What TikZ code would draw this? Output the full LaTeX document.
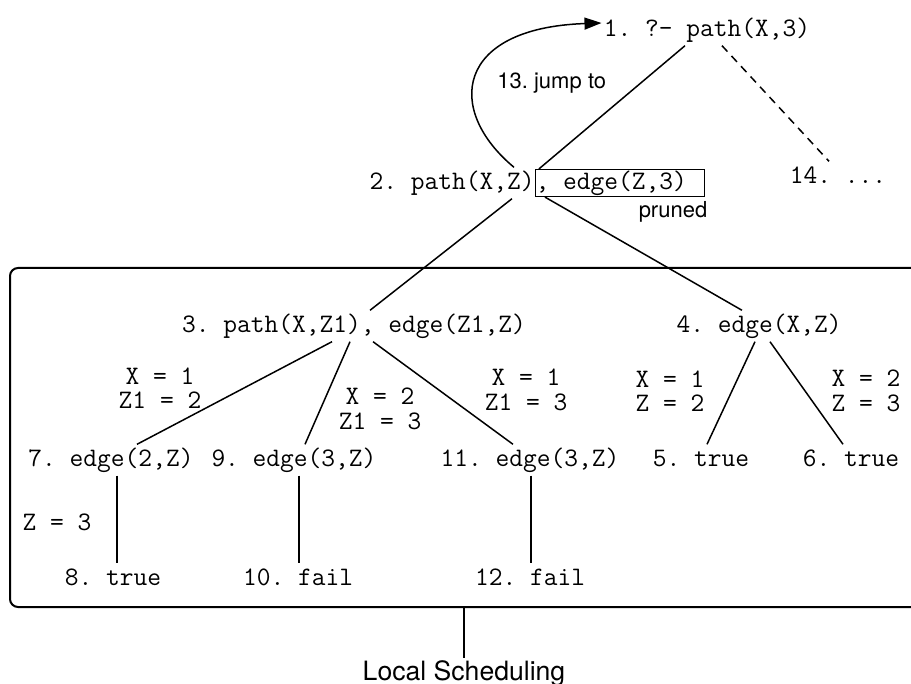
\documentclass[tikz,border=0pt]{standalone}
\usepackage{fontspec}
\newfontfamily\helv{TeX Gyre Heros}
\usetikzlibrary{arrows.meta,calc}
\frenchspacing
\begin{document}
\begin{tikzpicture}[x=0.5pt,y=-0.5pt,
  mono/.style={font=\fontsize{13.35}{15}\selectfont\ttfamily, inner sep=1pt, text height=10pt, text depth=3.3pt},
  lab/.style={font=\fontsize{13.35}{12.2}\selectfont\ttfamily, align=center, inner sep=0pt},
  conn/.style={line width=0.75pt},
  sans/.style={font=\fontsize{11}{13}\selectfont\helv, inner sep=0pt}]
\useasboundingbox (0,0) rectangle (911,684);
\clip (0,0) rectangle (911,684);

\node[draw, line width=1pt, rounded corners=4pt, minimum width=465pt, minimum height=169.5pt, inner sep=0pt] (region) at (475,437.5) {};

% nodes
\node[mono] (n1) at (707,30) {1. ?- path(X,3)};
\node[mono, inner xsep=0pt] (n2a) at (452,183) {2. path(X,Z)};
\node[mono, draw, conn, inner xsep=0pt, inner ysep=0pt, anchor=west] (n2b) at (n2a.east) {\makebox[84.5pt][l]{, edge(Z,3)}};
\node[mono] (n14) at (838,177) {14. ...};
\node[mono] (n3) at (354,326) {3. path(X,Z1), edge(Z1,Z)};
\node[mono] (n4) at (759,326) {4. edge(X,Z)};
\node[mono] (n7) at (111,460) {7. edge(2,Z)};
\node[mono] (n9) at (294,460) {9. edge(3,Z)};
\node[mono] (n11) at (530,460) {11. edge(3,Z)};
\node[mono] (n5) at (701,460) {5. true};
\node[mono] (n6) at (851,460) {6. true};
\node[mono] (n8) at (113,579) {8. true};
\node[mono] (n10) at (298,579) {10. fail};
\node[mono] (n12) at (530,579) {12. fail};

% labels
\node[lab] (l1) at (160,388) {X = 1\\Z1 = 2};
\node[lab] (l2) at (380,409) {X = 2\\Z1 = 3};
\node[lab] (l3) at (526,390) {X = 1\\Z1 = 3};
\node[lab] (l4) at (670,391) {X = 1\\Z = 2};
\node[lab] (l5) at (866,391) {X = 2\\Z = 3};
\node[lab] (l6) at (57,522) {Z = 3};

\node[sans, anchor=west] (jump) at (497,83) {13. jump to};
\node[sans] (pr) at (673,212) {pruned};
\node[sans, font=\fontsize{13.3}{15}\selectfont\helv, inner sep=1pt, anchor=north] (ls) at (464,658) {Local Scheduling};

% connectors
\draw[conn] ([xshift=-11pt]n1.south) -- ([xshift=2pt]n2b.north west);
\draw[conn, dash pattern=on 4pt off 3pt] ([xshift=7.5pt]n1.south) -- ([xshift=-4.5pt]n14.north);
\draw[conn, -{Triangle[length=8.5pt,width=6pt]}] ([xshift=31pt]n2a.north) .. controls (445,110) and (455,28) .. ([yshift=3.5pt]n1.west);
\draw[conn] ([xshift=30pt]n2a.south) -- ([xshift=8pt]n3.north);
\draw[conn] ([xshift=5pt]n2b.south west) -- ([xshift=-8.5pt]n4.north);
\draw[conn] ([xshift=-11pt]n3.south) -- ([xshift=13pt]n7.north);
\draw[conn] ([xshift=-2pt]n3.south) -- ([xshift=5.5pt]n9.north);
\draw[conn] ([xshift=9.5pt]n3.south) -- ([xshift=-8.5pt]n11.north);
\draw[conn] ([xshift=-2pt]n4.south) -- ([xshift=3pt]n5.north);
\draw[conn] ([xshift=5.5pt]n4.south) -- ([xshift=-4pt]n6.north);
\draw[conn] ([xshift=3pt]n7.south) -- ([xshift=2pt]n8.north);
\draw[conn] ([xshift=2.5pt]n9.south) -- ([xshift=0.5pt]n10.north);
\draw[conn] ([xshift=0.5pt]n11.south) -- ([xshift=0.5pt]n12.north);
\draw[conn] (region.south -| ls.north) -- (ls.north);
\end{tikzpicture}
\end{document}
